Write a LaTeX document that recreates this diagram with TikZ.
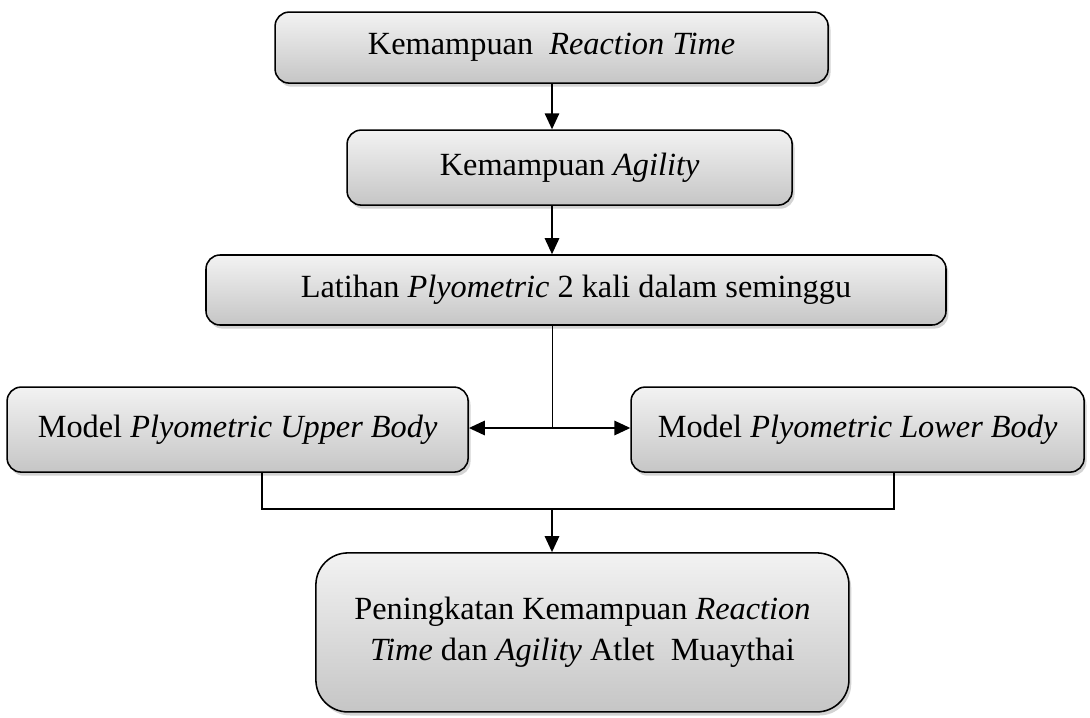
\documentclass[tikz,border=0pt]{standalone}
\usepackage{fontspec}
\setmainfont{Liberation Serif}
\usepackage{tikz}
\usetikzlibrary{arrows.meta,positioning,shadows,calc}

\begin{document}
\begin{tikzpicture}[
  stepbox/.style={draw,line width=1.1pt,rounded corners=0.35cm,top color=gray!10,bottom color=gray!45,
    drop shadow={shadow xshift=0.06cm,shadow yshift=-0.09cm,opacity=0.35},
    font=\fontsize{23}{29}\selectfont,align=center,inner sep=0pt},
  arr/.style={-{Triangle[length=0.4cm,width=0.36cm]},line width=1.2pt},
  link/.style={line width=1.4pt}]
  \useasboundingbox (0,0) rectangle (27.25,-17.925);
  % Boxes
  \node[stepbox,minimum width=13.825cm,minimum height=1.775cm] (rt) at (13.79,-1.19) {Kemampuan \ \textit{Reaction Time}};
  \node[stepbox,minimum width=11.125cm,minimum height=1.875cm] (ag) at (14.24,-4.19) {Kemampuan \textit{Agility}};
  \node[stepbox,minimum width=18.5cm,minimum height=1.75cm] (lat) at (14.4,-7.25) {Latihan \textit{Plyometric} 2 kali dalam seminggu};
  \node[stepbox,minimum width=11.525cm,minimum height=2.125cm] (up) at (5.94,-10.74) {Model \textit{Plyometric Upper Body}};
  \node[stepbox,minimum width=11.325cm,minimum height=2.125cm] (low) at (21.44,-10.74) {Model \textit{Plyometric Lower Body}};
  \node[stepbox,rounded corners=0.8cm,minimum width=13.325cm,minimum height=3.975cm] (res) at (14.56,-15.81) {Peningkatan Kemampuan \textit{Reaction}\\\textit{Time} dan \textit{Agility} Atlet \ Muaythai};
  % Junctions
  \coordinate (j) at (13.8,-10.7);
  \coordinate (b) at (13.8,-12.725);
  \coordinate (bl) at (6.55,-12.725);
  \coordinate (br) at (22.35,-12.725);
  % Connectors
  \draw[arr] (rt.south -| j) -- (ag.north -| j);
  \draw[arr] (ag.south -| j) -- (lat.north -| j);
  \draw[line width=0.7pt] (lat.south -| j) -- (j);
  \draw[arr,line width=1.4pt] (j) -- (j -| up.east);
  \draw[arr,line width=1.4pt] (j) -- (j -| low.west);
  \draw[link] (up.south -| bl) -- (bl) -- (br) -- (low.south -| br);
  \draw[arr] (b) -- (res.north -| b);
\end{tikzpicture}
\end{document}
